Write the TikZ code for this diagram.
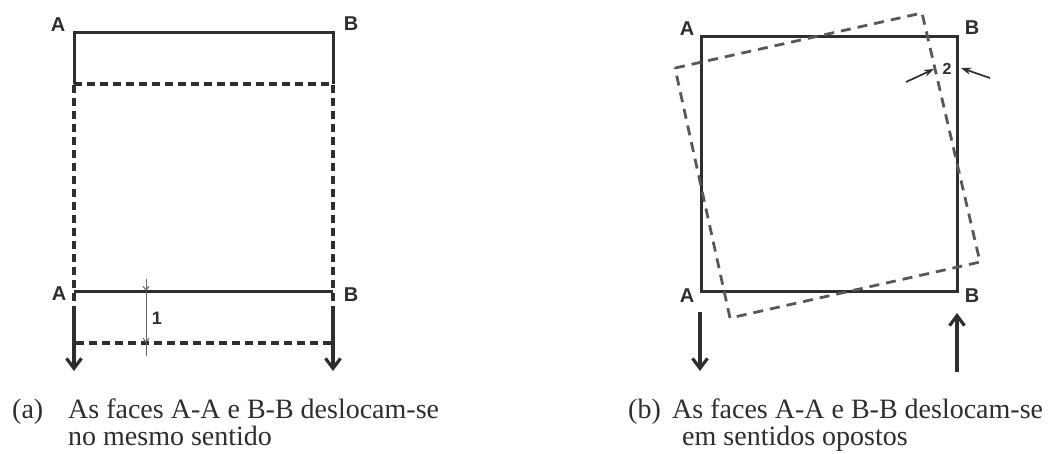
\documentclass[tikz,border=0pt]{standalone}
\usepackage{fontspec}
\setmainfont{Liberation Serif}
\newfontfamily\labfont{Liberation Sans}
\usetikzlibrary{arrows.meta}
\definecolor{ink}{gray}{0.18}
\begin{document}
\begin{tikzpicture}[x=1pt,y=-1pt,
  solidedge/.style={draw=ink,line width=3pt},
  dashedge/.style={draw=ink,line width=3.2pt,dash pattern=on 8pt off 5pt},
  dashedgeb/.style={draw=ink!80,line width=2.8pt,dash pattern=on 10pt off 7pt},
  movearrow/.style={draw=ink,line width=3.2pt,-{Straight Barb[length=10pt,width=15pt]}},
  dimline/.style={draw=ink!75,line width=1pt},
  dimtip/.style={draw=ink!75,line width=1pt,-{Straight Barb[length=4pt,width=6pt]}},
  dimarrow/.style={draw=ink,line width=1.7pt,-{Stealth[length=10pt,width=7pt]}},
  ptlabel/.style={font=\labfont\bfseries\fontsize{20}{20}\selectfont,text=ink,inner sep=0pt},
  dimlabel/.style={font=\labfont\bfseries\fontsize{18}{18}\selectfont,text=ink,inner sep=0pt},
  captxt/.style={font=\fontsize{28}{27}\selectfont,text=ink,inner sep=0pt,anchor=base west},
]
\useasboundingbox[fill=white] (0,0) rectangle (1051,453);

% ---------- (a) ----------
\coordinate (a1) at (74,32);
\coordinate (b1) at (333,32);
\coordinate (a2) at (74,291);
\coordinate (b2) at (333,291);
\coordinate (a3) at (74,84);
\coordinate (b3) at (333,84);
\coordinate (a4) at (74,343);
\coordinate (b4) at (333,343);

\draw[solidedge] (a3) -- (a1) -- (b1) -- (b3);
\draw[solidedge] (a2) -- (b2);
\draw[dashedge] (a3) -- (b3) -- (b4) -- (a4) -- cycle;

\coordinate (aarS) at (74,306);
\coordinate (aarE) at (74,371);
\coordinate (barS) at (333,306);
\coordinate (barE) at (333,371);
\draw[movearrow] (aarS) -- (aarE);
\draw[movearrow] (barS) -- (barE);

\coordinate (d1) at (146,279);
\coordinate (d2) at (146,291);
\coordinate (d3) at (146,343);
\coordinate (d4) at (146,356);
\draw[dimtip] (d1) -- (d2);
\draw[dimtip] (d2) -- (d3);
\draw[dimline] (d3) -- (d4);
\node[dimlabel] (one) at (157,318) {1};

\node[ptlabel] (lA1) at (58,25) {A};
\node[ptlabel] (lB1) at (351,24) {B};
\node[ptlabel] (lA2) at (59,294) {A};
\node[ptlabel] (lB2) at (351,295) {B};

\node[captxt] (ca0) at (12,418) {(a)};
\node[captxt] (ca1) at (68,418) {As faces A-A e B-B deslocam-se};
\node[captxt] (ca2) at (68,445) {no mesmo sentido};

% ---------- (b) ----------
\coordinate (p1) at (701,36);
\coordinate (p2) at (957,36);
\coordinate (p3) at (957,291);
\coordinate (p4) at (701,291);
\draw[solidedge] (p1) -- (p2) -- (p3) -- (p4) -- cycle;

\coordinate (q1) at (675,68);
\coordinate (q2) at (922,13);
\coordinate (q3) at (980,262);
\coordinate (q4) at (730,318);
\draw[dashedgeb] (q1) -- (q2) -- (q3) -- (q4) -- cycle;

\coordinate (t1s) at (906,82);
\coordinate (t1e) at (934,69);
\coordinate (t2s) at (990,78);
\coordinate (t2e) at (961,68);
\draw[dimarrow] (t1s) -- (t1e);
\draw[dimarrow] (t2s) -- (t2e);
\node[dimlabel,font=\labfont\bfseries\fontsize{16}{16}\selectfont] (two) at (947,69) {2};

\coordinate (carS) at (700,312);
\coordinate (carE) at (700,371);
\coordinate (darS) at (957,372);
\coordinate (darE) at (957,313);
\draw[movearrow] (carS) -- (carE);
\draw[movearrow] (darS) -- (darE);

\node[ptlabel] (rA1) at (687,29) {A};
\node[ptlabel] (rB1) at (972,28) {B};
\node[ptlabel] (rA2) at (687,296) {A};
\node[ptlabel] (rB2) at (972,296) {B};

\node[captxt] (cb0) at (628,418) {(b)};
\node[captxt] (cb1) at (672,418) {As faces A-A e B-B deslocam-se};
\node[captxt] (cb2) at (682,445) {em sentidos opostos};
\end{tikzpicture}
\end{document}
